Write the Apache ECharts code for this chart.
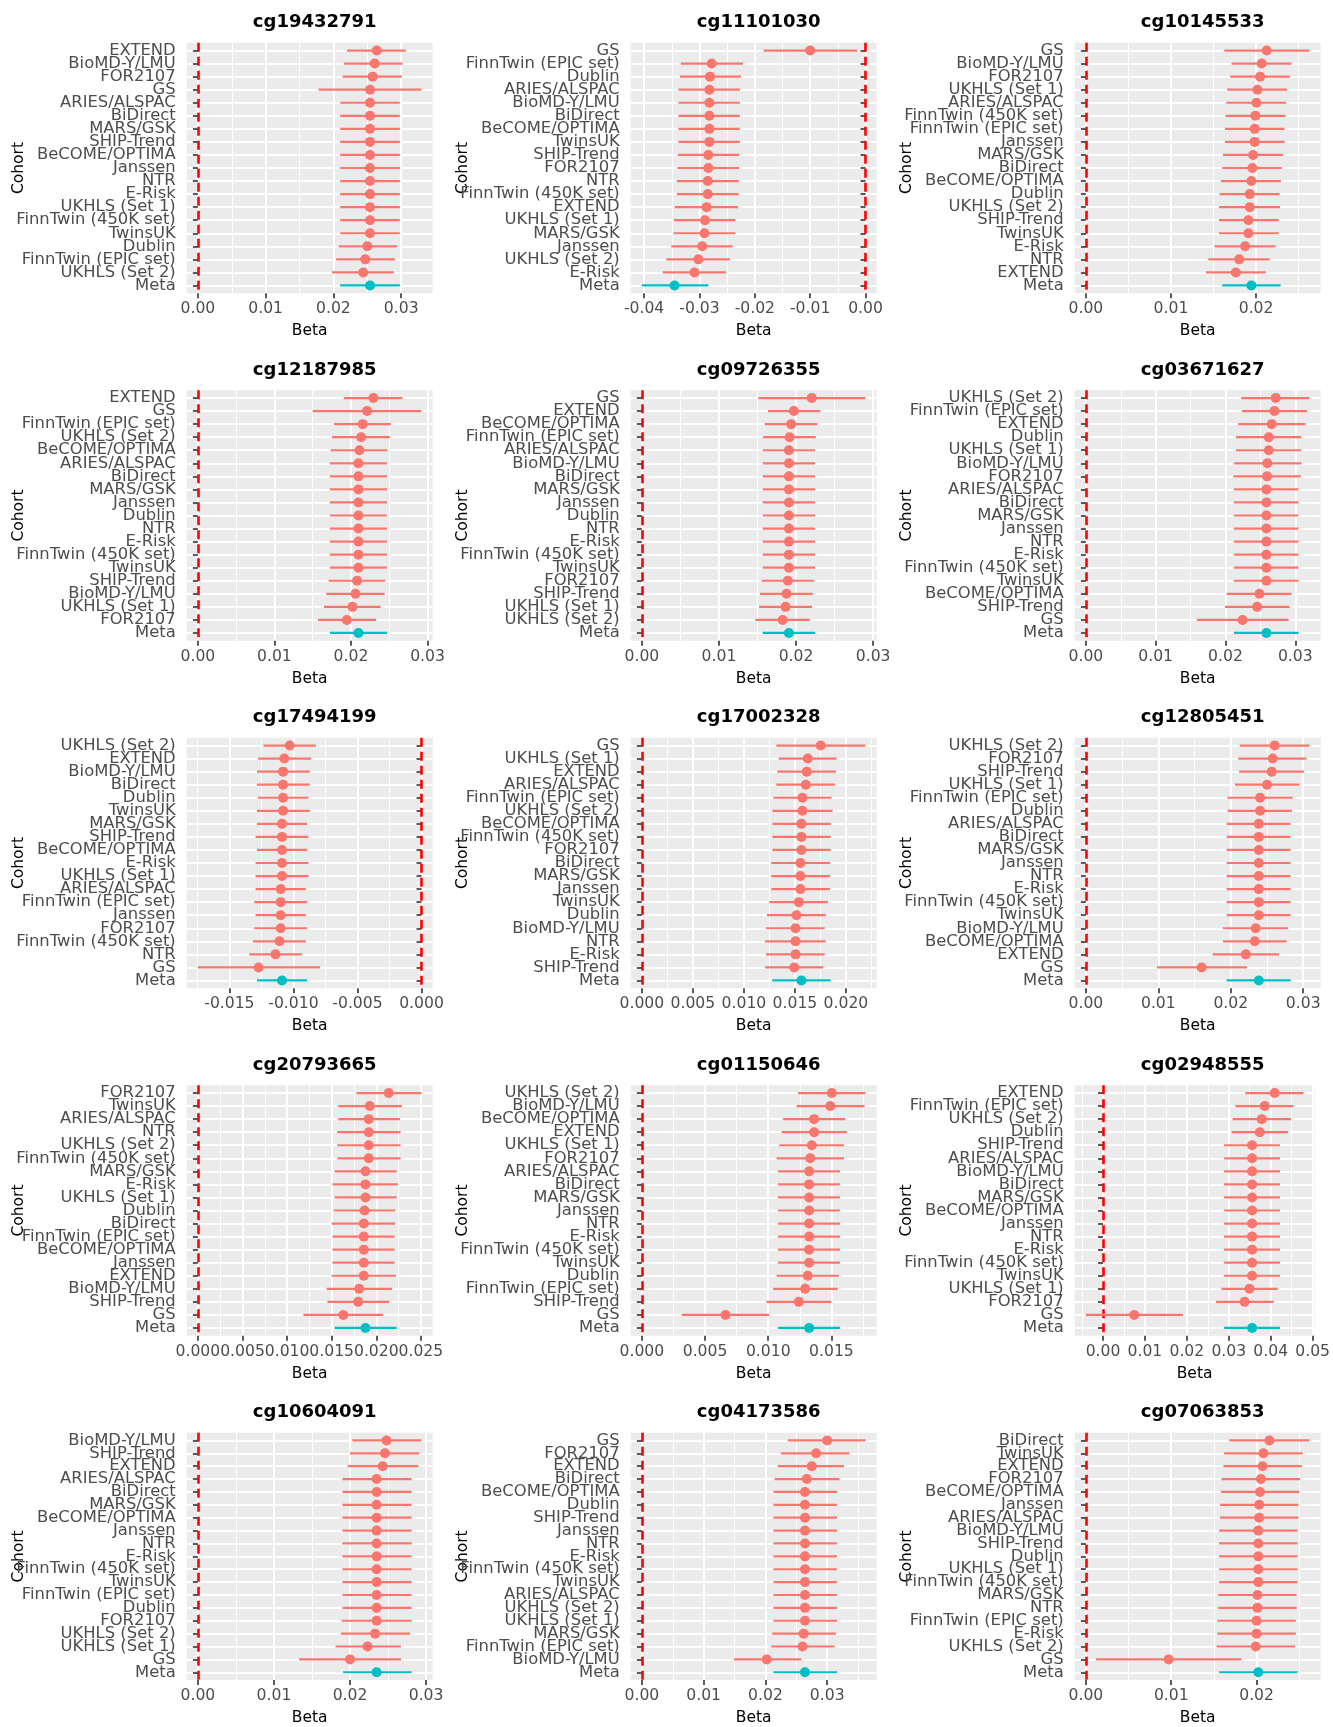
<!DOCTYPE html>
<html><head><meta charset="utf-8">
<script src="https://cdn.jsdelivr.net/npm/echarts@6/dist/echarts.min.js"></script>
<style>html,body{margin:0;padding:0;background:#fff}#c{width:1333px;height:1727px}</style>
</head><body><div id="c"></div><script>
// ---------------- DATA ----------------
const probes = ['cg19432791','cg11101030','cg10145533','cg12187985','cg09726355','cg03671627','cg17494199','cg17002328','cg12805451','cg20793665','cg01150646','cg02948555','cg10604091','cg04173586','cg07063853'];

const cohorts_cg19432791 = ['EXTEND','BioMD-Y/LMU','FOR2107','GS','ARIES/ALSPAC','BiDirect','MARS/GSK','SHIP-Trend','BeCOME/OPTIMA','Janssen','NTR','E-Risk','UKHLS (Set 1)','FinnTwin (450K set)','TwinsUK','Dublin','FinnTwin (EPIC set)','UKHLS (Set 2)','Meta'];
const beta_cg19432791 = [0.0264,0.0261,0.0258,0.0254,0.0254,0.0254,0.0254,0.0254,0.0254,0.0254,0.0254,0.0254,0.0254,0.0254,0.0254,0.0250,0.0247,0.0244,0.0254];
const lo_cg19432791 = [0.0220,0.02155,0.02135,0.0178,0.0210,0.0210,0.0210,0.0210,0.0210,0.0210,0.0210,0.0210,0.0210,0.0210,0.0210,0.0208,0.0204,0.0198,0.0210];
const hi_cg19432791 = [0.0307,0.0302,0.0301,0.0330,0.0298,0.0298,0.0298,0.0298,0.0298,0.0298,0.0298,0.0298,0.0298,0.0298,0.0298,0.0294,0.0291,0.0289,0.0298];
const ticks_cg19432791 = [0,0.01,0.02,0.03];

const cohorts_cg11101030 = ['GS','FinnTwin (EPIC set)','Dublin','ARIES/ALSPAC','BioMD-Y/LMU','BiDirect','BeCOME/OPTIMA','TwinsUK','SHIP-Trend','FOR2107','NTR','FinnTwin (450K set)','EXTEND','UKHLS (Set 1)','MARS/GSK','Janssen','UKHLS (Set 2)','E-Risk','Meta'];
const beta_cg11101030 = [-0.0100,-0.0278,-0.0281,-0.0282,-0.0282,-0.0282,-0.0282,-0.0282,-0.0284,-0.0284,-0.0285,-0.0285,-0.0287,-0.0290,-0.0291,-0.0295,-0.0302,-0.0309,-0.0345];
const lo_cg11101030 = [-0.0184,-0.0334,-0.0335,-0.0338,-0.0338,-0.0338,-0.0338,-0.0338,-0.0339,-0.0340,-0.0341,-0.0341,-0.0345,-0.0346,-0.0347,-0.0351,-0.0360,-0.0366,-0.0404];
const hi_cg11101030 = [-0.0015,-0.0221,-0.0225,-0.0227,-0.0227,-0.0227,-0.0227,-0.0227,-0.0228,-0.0228,-0.0229,-0.0229,-0.0230,-0.0235,-0.0235,-0.0240,-0.0245,-0.0252,-0.0284];
const ticks_cg11101030 = [-0.04,-0.03,-0.02,-0.01,0];

const cohorts_cg10145533 = ['GS','BioMD-Y/LMU','FOR2107','UKHLS (Set 1)','ARIES/ALSPAC','FinnTwin (450K set)','FinnTwin (EPIC set)','Janssen','MARS/GSK','BiDirect','BeCOME/OPTIMA','Dublin','UKHLS (Set 2)','SHIP-Trend','TwinsUK','E-Risk','NTR','EXTEND','Meta'];
const beta_cg10145533 = [0.02125,0.02066,0.02047,0.02016,0.02004,0.01992,0.01984,0.01984,0.01965,0.01957,0.01945,0.01926,0.01926,0.0191,0.0191,0.01871,0.01801,0.01762,0.01945];
const lo_cg10145533 = [0.01626,0.01711,0.01696,0.01661,0.01649,0.01641,0.01634,0.01634,0.0161,0.01602,0.01587,0.01571,0.01563,0.01563,0.01563,0.01513,0.01439,0.01411,0.01602];
const hi_cg10145533 = [0.02628,0.02417,0.02398,0.02366,0.02355,0.02347,0.02335,0.02335,0.02316,0.02304,0.02292,0.02277,0.02281,0.02265,0.02265,0.0223,0.0216,0.02113,0.02288];
const ticks_cg10145533 = [0,0.01,0.02];

const cohorts_cg12187985 = ['EXTEND','GS','FinnTwin (EPIC set)','UKHLS (Set 2)','BeCOME/OPTIMA','ARIES/ALSPAC','BiDirect','MARS/GSK','Janssen','Dublin','NTR','E-Risk','FinnTwin (450K set)','TwinsUK','SHIP-Trend','BioMD-Y/LMU','UKHLS (Set 1)','FOR2107','Meta'];
const beta_cg12187985 = [0.02293,0.02211,0.02154,0.02133,0.02111,0.02098,0.02098,0.02098,0.02098,0.02098,0.02098,0.02098,0.02098,0.02098,0.02081,0.02059,0.0202,0.01946,0.02098];
const lo_cg12187985 = [0.01907,0.0150,0.01777,0.01751,0.01734,0.01725,0.01725,0.01725,0.01725,0.01725,0.01725,0.01725,0.01725,0.01725,0.01708,0.01677,0.01647,0.01569,0.01725];
const hi_cg12187985 = [0.02674,0.02922,0.02523,0.0251,0.02479,0.02471,0.02471,0.02471,0.02471,0.02471,0.02471,0.02471,0.02471,0.02471,0.02449,0.0244,0.02388,0.02328,0.02471];
const ticks_cg12187985 = [0,0.01,0.02,0.03];

const cohorts_cg09726355 = ['GS','EXTEND','BeCOME/OPTIMA','FinnTwin (EPIC set)','ARIES/ALSPAC','BioMD-Y/LMU','BiDirect','MARS/GSK','Janssen','Dublin','NTR','E-Risk','FinnTwin (450K set)','TwinsUK','FOR2107','SHIP-Trend','UKHLS (Set 1)','UKHLS (Set 2)','Meta'];
const beta_cg09726355 = [0.02204,0.01972,0.01937,0.01916,0.01907,0.01907,0.01907,0.01907,0.01907,0.01907,0.01907,0.01907,0.01907,0.01907,0.01894,0.01877,0.01864,0.01825,0.01907];
const lo_cg09726355 = [0.01511,0.01636,0.01593,0.01571,0.01567,0.01567,0.01567,0.01567,0.01567,0.01567,0.01567,0.01567,0.01567,0.01567,0.01554,0.01532,0.0152,0.01472,0.01567];
const hi_cg09726355 = [0.02901,0.02316,0.02277,0.02256,0.02247,0.02247,0.02247,0.02247,0.02247,0.02247,0.02247,0.02247,0.02247,0.02247,0.02234,0.02217,0.02208,0.02178,0.02247];
const ticks_cg09726355 = [0,0.01,0.02,0.03];

const cohorts_cg03671627 = ['UKHLS (Set 2)','FinnTwin (EPIC set)','EXTEND','Dublin','UKHLS (Set 1)','BioMD-Y/LMU','FOR2107','ARIES/ALSPAC','BiDirect','MARS/GSK','Janssen','NTR','E-Risk','FinnTwin (450K set)','TwinsUK','BeCOME/OPTIMA','SHIP-Trend','GS','Meta'];
const beta_cg03671627 = [0.0272,0.02701,0.02663,0.0262,0.0262,0.02601,0.02596,0.02587,0.02587,0.02587,0.02587,0.02587,0.02587,0.02587,0.02587,0.02487,0.02454,0.02245,0.02587];
const lo_cg03671627 = [0.02226,0.02236,0.02183,0.0215,0.0215,0.02122,0.02112,0.02122,0.02122,0.02122,0.02122,0.02122,0.02122,0.02122,0.02122,0.02017,0.01993,0.0159,0.02122];
const hi_cg03671627 = [0.03204,0.0317,0.03147,0.03085,0.03085,0.0309,0.0308,0.03047,0.03047,0.03047,0.03047,0.03047,0.03047,0.03047,0.03047,0.02947,0.02919,0.02905,0.03047];
const ticks_cg03671627 = [0,0.01,0.02,0.03];

const cohorts_cg17494199 = ['UKHLS (Set 2)','EXTEND','BioMD-Y/LMU','BiDirect','Dublin','TwinsUK','MARS/GSK','SHIP-Trend','BeCOME/OPTIMA','E-Risk','UKHLS (Set 1)','ARIES/ALSPAC','FinnTwin (EPIC set)','Janssen','FOR2107','FinnTwin (450K set)','NTR','GS','Meta'];
const beta_cg17494199 = [-0.01029,-0.01071,-0.01081,-0.01081,-0.01081,-0.01081,-0.01089,-0.01089,-0.01089,-0.01089,-0.01089,-0.01099,-0.01099,-0.01099,-0.01099,-0.01109,-0.01140,-0.01272,-0.01089];
const lo_cg17494199 = [-0.01234,-0.01275,-0.01285,-0.01285,-0.01277,-0.01285,-0.01285,-0.01296,-0.01285,-0.01296,-0.01296,-0.01296,-0.01306,-0.01296,-0.01306,-0.01316,-0.01345,-0.01746,-0.01285];
const hi_cg17494199 = [-0.00825,-0.00861,-0.00872,-0.00872,-0.00882,-0.00872,-0.00892,-0.00882,-0.00892,-0.00882,-0.00882,-0.00903,-0.00892,-0.00903,-0.00892,-0.00903,-0.00934,-0.00791,-0.00892];
const ticks_cg17494199 = [-0.015,-0.01,-0.005,0];

const cohorts_cg17002328 = ['GS','UKHLS (Set 1)','EXTEND','ARIES/ALSPAC','FinnTwin (EPIC set)','UKHLS (Set 2)','BeCOME/OPTIMA','FinnTwin (450K set)','FOR2107','BiDirect','MARS/GSK','Janssen','TwinsUK','Dublin','BioMD-Y/LMU','NTR','E-Risk','SHIP-Trend','Meta'];
const beta_cg17002328 = [0.01753,0.01626,0.01616,0.01607,0.01574,0.01574,0.01564,0.01564,0.01564,0.01554,0.01554,0.01554,0.01538,0.01515,0.01506,0.01506,0.01506,0.01493,0.01564];
const lo_cg17002328 = [0.01317,0.0134,0.01327,0.01317,0.01288,0.01278,0.01278,0.01278,0.01278,0.01268,0.01268,0.01268,0.01249,0.01226,0.01216,0.01207,0.01216,0.01207,0.01278];
const hi_cg17002328 = [0.02192,0.01909,0.01902,0.01893,0.0186,0.0187,0.0185,0.0185,0.0185,0.01844,0.01844,0.01844,0.01824,0.01802,0.01792,0.01802,0.01792,0.01779,0.0185];
const ticks_cg17002328 = [0,0.005,0.01,0.015,0.02];

const cohorts_cg12805451 = ['UKHLS (Set 2)','FOR2107','SHIP-Trend','UKHLS (Set 1)','FinnTwin (EPIC set)','Dublin','ARIES/ALSPAC','BiDirect','MARS/GSK','Janssen','NTR','E-Risk','FinnTwin (450K set)','TwinsUK','BioMD-Y/LMU','BeCOME/OPTIMA','EXTEND','GS','Meta'];
const beta_cg12805451 = [0.02606,0.02579,0.02565,0.02501,0.02405,0.02405,0.02387,0.02387,0.02387,0.02387,0.02387,0.02387,0.02387,0.02387,0.02345,0.02332,0.02208,0.01599,0.02387];
const lo_cg12805451 = [0.02125,0.02103,0.02116,0.02057,0.01951,0.01956,0.01942,0.01942,0.01942,0.01942,0.01942,0.01942,0.01942,0.01942,0.01892,0.01892,0.0175,0.0098,0.01942];
const hi_cg12805451 = [0.03087,0.03046,0.0301,0.0295,0.02854,0.02845,0.02826,0.02826,0.02826,0.02826,0.02826,0.02826,0.02826,0.02826,0.0279,0.02771,0.02666,0.02222,0.02826];
const ticks_cg12805451 = [0,0.01,0.02,0.03];

const cohorts_cg20793665 = ['FOR2107','TwinsUK','ARIES/ALSPAC','NTR','UKHLS (Set 2)','FinnTwin (450K set)','MARS/GSK','E-Risk','UKHLS (Set 1)','Dublin','BiDirect','FinnTwin (EPIC set)','BeCOME/OPTIMA','Janssen','EXTEND','BioMD-Y/LMU','SHIP-Trend','GS','Meta'];
const beta_cg20793665 = [0.02139,0.01927,0.01916,0.01916,0.01916,0.01916,0.01879,0.01879,0.01879,0.01868,0.0186,0.0186,0.0186,0.0186,0.0186,0.01808,0.01797,0.0163,0.01879];
const lo_cg20793665 = [0.01778,0.01574,0.01574,0.01563,0.01563,0.01563,0.01533,0.0151,0.01533,0.01522,0.01499,0.0151,0.0151,0.0151,0.01499,0.01443,0.01451,0.01183,0.01533];
const hi_cg20793665 = [0.02507,0.02288,0.02266,0.02273,0.02273,0.02273,0.02228,0.02243,0.02228,0.02214,0.02214,0.02206,0.02206,0.02206,0.02221,0.02176,0.02147,0.02076,0.02228];
const ticks_cg20793665 = [0,0.005,0.01,0.015,0.02,0.025];

const cohorts_cg01150646 = ['UKHLS (Set 2)','BioMD-Y/LMU','BeCOME/OPTIMA','EXTEND','UKHLS (Set 1)','FOR2107','ARIES/ALSPAC','BiDirect','MARS/GSK','Janssen','NTR','E-Risk','FinnTwin (450K set)','TwinsUK','Dublin','FinnTwin (EPIC set)','SHIP-Trend','GS','Meta'];
const beta_cg01150646 = [0.01503,0.01492,0.01363,0.01363,0.01345,0.01332,0.01324,0.01324,0.01324,0.01324,0.01324,0.01324,0.01324,0.01324,0.01313,0.01292,0.01242,0.00662,0.01324];
const lo_cg01150646 = [0.01235,0.01224,0.01116,0.01106,0.01087,0.01066,0.01077,0.01077,0.01077,0.01077,0.01077,0.01077,0.01077,0.01077,0.01066,0.01038,0.00985,0.00315,0.01077];
const hi_cg01150646 = [0.0177,0.01763,0.0161,0.01621,0.016,0.016,0.01568,0.01568,0.01568,0.01568,0.01568,0.01568,0.01568,0.01568,0.0156,0.0155,0.015,0.01009,0.01568];
const ticks_cg01150646 = [0,0.005,0.01,0.015];

const cohorts_cg02948555 = ['EXTEND','FinnTwin (EPIC set)','UKHLS (Set 2)','Dublin','SHIP-Trend','ARIES/ALSPAC','BioMD-Y/LMU','BiDirect','MARS/GSK','BeCOME/OPTIMA','Janssen','NTR','E-Risk','FinnTwin (450K set)','TwinsUK','UKHLS (Set 1)','FOR2107','GS','Meta'];
const beta_cg02948555 = [0.04094,0.03856,0.03786,0.0374,0.03556,0.03556,0.03556,0.03556,0.03556,0.03556,0.03556,0.03556,0.03556,0.03556,0.03556,0.03495,0.03379,0.00745,0.03556];
const lo_cg02948555 = [0.03395,0.03157,0.03088,0.03065,0.02888,0.02888,0.02888,0.02888,0.02888,0.02888,0.02888,0.02888,0.02888,0.02888,0.02888,0.02826,0.02696,-0.00415,0.02888];
const hi_cg02948555 = [0.04785,0.04539,0.04485,0.04416,0.04224,0.04224,0.04224,0.04224,0.04224,0.04224,0.04224,0.04224,0.04224,0.04224,0.04224,0.0417,0.04071,0.01905,0.04224];
const ticks_cg02948555 = [0,0.01,0.02,0.03,0.04,0.05];

const cohorts_cg10604091 = ['BioMD-Y/LMU','SHIP-Trend','EXTEND','ARIES/ALSPAC','BiDirect','MARS/GSK','BeCOME/OPTIMA','Janssen','NTR','E-Risk','FinnTwin (450K set)','TwinsUK','FinnTwin (EPIC set)','Dublin','FOR2107','UKHLS (Set 2)','UKHLS (Set 1)','GS','Meta'];
const beta_cg10604091 = [0.0248,0.0246,0.0243,0.0235,0.0235,0.0235,0.0235,0.0235,0.0235,0.0235,0.0235,0.0235,0.0235,0.0235,0.0235,0.0233,0.0223,0.0200,0.0235];
const lo_cg10604091 = [0.0203,0.0200,0.0197,0.0190,0.0190,0.0190,0.0190,0.0190,0.0190,0.0190,0.0190,0.0190,0.0190,0.0190,0.0189,0.0188,0.0181,0.0133,0.0191];
const hi_cg10604091 = [0.0294,0.0291,0.0290,0.0281,0.0281,0.0281,0.0281,0.0281,0.0281,0.0281,0.0281,0.0281,0.0281,0.0281,0.0281,0.0279,0.0267,0.0267,0.0281];
const ticks_cg10604091 = [0,0.01,0.02,0.03];

const cohorts_cg04173586 = ['GS','FOR2107','EXTEND','BiDirect','BeCOME/OPTIMA','Dublin','SHIP-Trend','Janssen','NTR','E-Risk','FinnTwin (450K set)','TwinsUK','ARIES/ALSPAC','UKHLS (Set 2)','UKHLS (Set 1)','MARS/GSK','FinnTwin (EPIC set)','BioMD-Y/LMU','Meta'];
const beta_cg04173586 = [0.0300,0.0282,0.0275,0.0267,0.0264,0.0264,0.0264,0.0264,0.0264,0.0264,0.0264,0.0264,0.0264,0.0264,0.0264,0.0262,0.0260,0.0202,0.0264];
const lo_cg04173586 = [0.0236,0.0225,0.0220,0.0215,0.0213,0.0213,0.0213,0.0213,0.0213,0.0213,0.0213,0.0213,0.0213,0.0213,0.0213,0.0211,0.0209,0.0149,0.0213];
const hi_cg04173586 = [0.0362,0.0336,0.0327,0.0320,0.0316,0.0316,0.0316,0.0316,0.0316,0.0316,0.0316,0.0316,0.0316,0.0316,0.0316,0.0314,0.0312,0.0258,0.0316];
const ticks_cg04173586 = [0,0.01,0.02,0.03];

const cohorts_cg07063853 = ['BiDirect','TwinsUK','EXTEND','FOR2107','BeCOME/OPTIMA','Janssen','ARIES/ALSPAC','BioMD-Y/LMU','SHIP-Trend','Dublin','UKHLS (Set 1)','FinnTwin (450K set)','MARS/GSK','NTR','FinnTwin (EPIC set)','E-Risk','UKHLS (Set 2)','GS','Meta'];
const beta_cg07063853 = [0.0215,0.0208,0.0207,0.0205,0.0204,0.0203,0.0203,0.0202,0.0202,0.0202,0.0202,0.0202,0.0201,0.0201,0.0200,0.0200,0.0199,0.0097,0.0202];
const lo_cg07063853 = [0.0168,0.0162,0.0161,0.0159,0.0158,0.0157,0.0157,0.0156,0.0156,0.0156,0.0156,0.0156,0.0155,0.0155,0.0154,0.0154,0.0153,0.0012,0.0156];
const hi_cg07063853 = [0.0262,0.0254,0.0253,0.0251,0.0250,0.0249,0.0249,0.0248,0.0248,0.0248,0.0248,0.0248,0.0247,0.0247,0.0246,0.0246,0.0245,0.0182,0.0248];
const ticks_cg07063853 = [0,0.01,0.02];

// ---------------- BUILD ----------------
const src = {
  cg19432791:[cohorts_cg19432791,beta_cg19432791,lo_cg19432791,hi_cg19432791,ticks_cg19432791],
  cg11101030:[cohorts_cg11101030,beta_cg11101030,lo_cg11101030,hi_cg11101030,ticks_cg11101030],
  cg10145533:[cohorts_cg10145533,beta_cg10145533,lo_cg10145533,hi_cg10145533,ticks_cg10145533],
  cg12187985:[cohorts_cg12187985,beta_cg12187985,lo_cg12187985,hi_cg12187985,ticks_cg12187985],
  cg09726355:[cohorts_cg09726355,beta_cg09726355,lo_cg09726355,hi_cg09726355,ticks_cg09726355],
  cg03671627:[cohorts_cg03671627,beta_cg03671627,lo_cg03671627,hi_cg03671627,ticks_cg03671627],
  cg17494199:[cohorts_cg17494199,beta_cg17494199,lo_cg17494199,hi_cg17494199,ticks_cg17494199],
  cg17002328:[cohorts_cg17002328,beta_cg17002328,lo_cg17002328,hi_cg17002328,ticks_cg17002328],
  cg12805451:[cohorts_cg12805451,beta_cg12805451,lo_cg12805451,hi_cg12805451,ticks_cg12805451],
  cg20793665:[cohorts_cg20793665,beta_cg20793665,lo_cg20793665,hi_cg20793665,ticks_cg20793665],
  cg01150646:[cohorts_cg01150646,beta_cg01150646,lo_cg01150646,hi_cg01150646,ticks_cg01150646],
  cg02948555:[cohorts_cg02948555,beta_cg02948555,lo_cg02948555,hi_cg02948555,ticks_cg02948555],
  cg10604091:[cohorts_cg10604091,beta_cg10604091,lo_cg10604091,hi_cg10604091,ticks_cg10604091],
  cg04173586:[cohorts_cg04173586,beta_cg04173586,lo_cg04173586,hi_cg04173586,ticks_cg04173586],
  cg07063853:[cohorts_cg07063853,beta_cg07063853,lo_cg07063853,hi_cg07063853,ticks_cg07063853]
};

const FONT = 'DejaVu Sans';
const SALMON = '#F8766D', TEAL = '#00BFC4';
const PLOT_W = 246, PLOT_H = 250.6, COL_STEP = 444, ROW_STEP = 347.5, LEFT0 = 186.7, TOP0 = 42.7;

function decimalsOf(step){ for(let d=0; d<8; d++){ const s=step*Math.pow(10,d); if(Math.abs(s-Math.round(s))<1e-7) return d; } return 3; }

const option = {animation:false, backgroundColor:'#ffffff', title:[], grid:[], xAxis:[], yAxis:[], series:[]};

probes.forEach((probe, i) => {
  const [cohorts, beta, lo, hi, ticks] = src[probe];
  const c = i % 3, r = Math.floor(i / 3);
  const n = cohorts.length;
  const ys = cohorts.map((_, k) => k + 1);
  // split the row ticks into two interleaved sets so that neighbouring labels never collide
  const ysOdd = ys.filter(v => v % 2 === 1), ysEven = ys.filter(v => v % 2 === 0);
  const dmin = Math.min(0, ...lo), dmax = Math.max(0, ...hi);
  const pad = 0.05 * (dmax - dmin);
  const xmin = dmin - pad, xmax = dmax + pad;
  const step = ticks[1] - ticks[0];
  const dec = decimalsOf(step);
  const minors = [];
  for (let t = ticks[0] - step * 1.5; t <= ticks[ticks.length - 1] + step * 1.5 + 1e-12; t += step) {
    if (t > xmin && t < xmax && !ticks.some(v => Math.abs(v - t) < step * 0.1)) minors.push(+t.toFixed(8));
  }
  const left = LEFT0 + COL_STEP * c, top = TOP0 + ROW_STEP * r;

  option.title.push({text: probe, left: left + PLOT_W / 2, top: top - 34, textAlign: 'center',
    textStyle: {fontFamily: FONT, fontWeight: 'bold', fontSize: 18, color: '#000'}});
  option.grid.push({left: left, top: top, width: PLOT_W, height: PLOT_H, show: true,
    backgroundColor: '#EBEBEB', borderWidth: 0, containLabel: false});

  option.xAxis.push({type: 'value', gridIndex: i, min: xmin, max: xmax, position: 'bottom',
    axisLine: {show: false},
    axisTick: {show: true, length: 5, customValues: ticks, lineStyle: {color: '#333333', width: 1.6}},
    axisLabel: {customValues: ticks, formatter: v => (+v).toFixed(dec), fontFamily: FONT, fontSize: 15.6, color: '#4D4D4D', margin: 8},
    splitLine: {show: true, lineStyle: {color: '#FFFFFF', width: 2}},
    name: 'Beta', nameLocation: 'middle', nameGap: 30, nameMoveOverlap: false,
    nameTextStyle: {fontFamily: FONT, fontSize: 15.5, color: '#000'}});
  option.xAxis.push({type: 'value', gridIndex: i, min: xmin, max: xmax, position: 'top',
    axisLine: {show: false},
    axisTick: {show: false, customValues: minors},
    axisLabel: {show: false, customValues: minors},
    splitLine: {show: true, lineStyle: {color: '#FFFFFF', width: 1}}});

  const yBase = (vals, withName) => ({type: 'value', gridIndex: i, min: 0.4, max: n + 0.6, inverse: true,
    position: 'left', offset: 0,
    axisLine: {show: false},
    axisTick: {show: true, length: 5, customValues: vals, lineStyle: {color: '#333333', width: 1.6}},
    axisLabel: {customValues: vals, showMinLabel: true, showMaxLabel: true, hideOverlap: false,
      formatter: v => cohorts[Math.round(v) - 1], fontFamily: FONT, fontSize: 16.4, color: '#4D4D4D', margin: 11},
    splitLine: {show: true, lineStyle: {color: '#FFFFFF', width: 2}},
    name: withName ? 'Cohort' : '', nameLocation: 'middle', nameRotate: 90, nameGap: 160, nameMoveOverlap: false,
    nameTextStyle: {fontFamily: FONT, fontSize: 15.5, color: '#000'}});
  option.yAxis.push(yBase(ysOdd, true));
  option.yAxis.push(yBase(ysEven, false));

  const barRows = cohorts.map((name, k) => [lo[k], hi[k], k + 1, name === 'Meta' ? 1 : 0]);
  option.series.push({type: 'custom', xAxisIndex: 2 * i, yAxisIndex: 2 * i, silent: true, z: 3,
    data: barRows, encode: {x: [0, 1], y: 2},
    renderItem: (params, api) => {
      const a = api.coord([api.value(0), api.value(2)]);
      const b = api.coord([api.value(1), api.value(2)]);
      return {type: 'line', shape: {x1: a[0], y1: a[1], x2: b[0], y2: b[1]},
        style: {stroke: api.value(3) ? TEAL : SALMON, lineWidth: 2.2}};
    },
    markLine: {silent: true, symbol: ['none', 'none'], label: {show: false}, z: 2,
      lineStyle: {color: '#FF0000', type: [9, 5], width: 2.6}, data: [{xAxis: 0}]}
  });
  option.series.push({type: 'scatter', xAxisIndex: 2 * i, yAxisIndex: 2 * i, silent: true, z: 4,
    symbolSize: 10,
    data: beta.map((b, k) => ({value: [b, k + 1], itemStyle: {color: cohorts[k] === 'Meta' ? TEAL : SALMON, opacity: 1}}))});
});

const chart = echarts.init(document.getElementById('c'), null, {renderer: 'canvas'});
chart.setOption(option);
</script></body></html>
